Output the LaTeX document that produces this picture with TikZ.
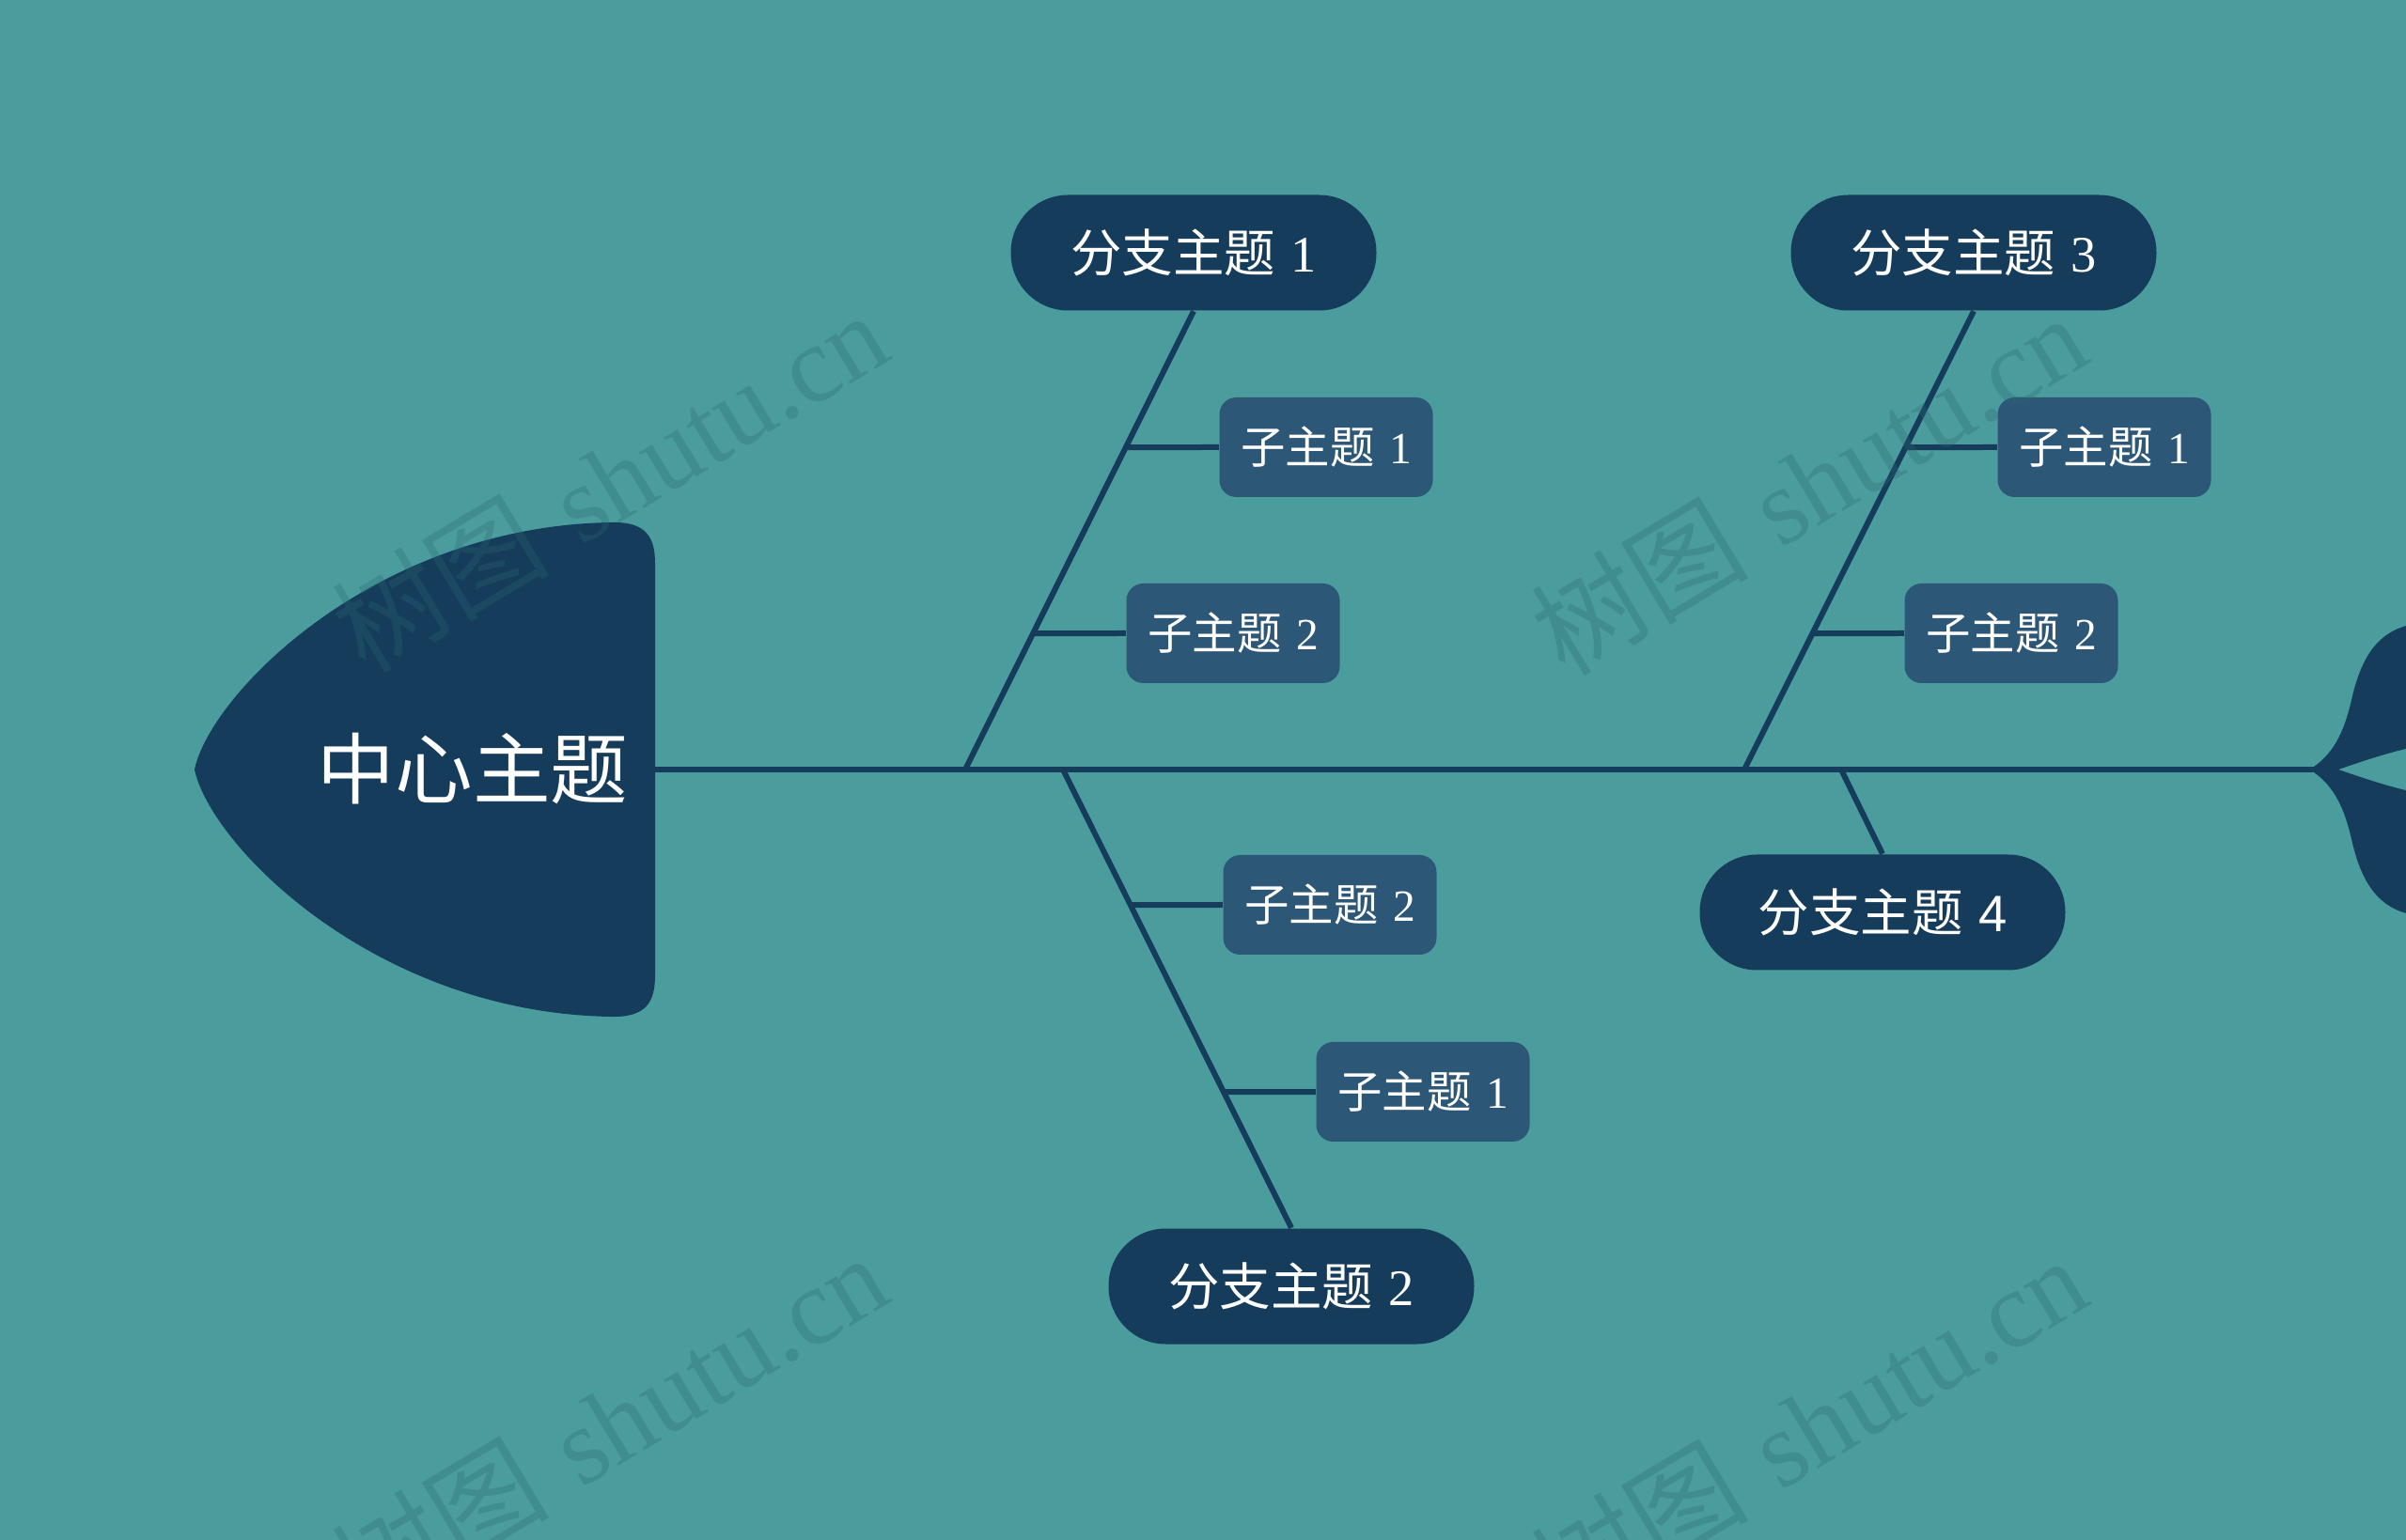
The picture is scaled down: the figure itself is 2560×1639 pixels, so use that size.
\documentclass[tikz,border=0pt]{standalone}
\usepackage{fontspec}
\newfontfamily\cjk{Noto Sans CJK SC}
\newfontfamily\dgs{Liberation Serif}
\newfontfamily\dga{Liberation Sans}
\definecolor{bg}{HTML}{4B9C9D}
\definecolor{navy}{HTML}{163C5C}
\definecolor{subc}{HTML}{2D5776}
\definecolor{wm}{HTML}{2A6A70}
\tikzset{
  bone/.style={draw=navy, line width=0.6mm},
  spine/.style={draw=navy, line width=0.65mm},
  branch/.style={fill=navy, text=white, minimum width=38.9mm, minimum height=12.3mm,
    rounded corners=6.1mm, inner sep=0pt, font=\fontsize{15.5pt}{18pt}\selectfont},
  subtopic/.style={fill=subc, text=white, minimum width=22.7mm, minimum height=10.6mm,
    rounded corners=1.8mm, inner sep=0pt, font=\fontsize{13.5pt}{16pt}\selectfont},
  wmark/.style={text=wm, text opacity=0.3, rotate=31, inner sep=0pt,
    font=\fontsize{33pt}{38pt}\selectfont}
}
\newcommand\bt[1]{{\cjk 分支主题} {\dgs #1}}
\newcommand\stt[1]{{\cjk 子主题} {\dgs #1}}
\begin{document}
\begin{tikzpicture}[x=0.1mm,y=-0.1mm]
\useasboundingbox (0,0) rectangle (2560,1639);
\fill[bg] (0,0) rectangle (2560,1639);
\begin{scope}
\clip (0,0) rectangle (2560,1639);
% head
\fill[navy] (207,819) .. controls (224,738) and (400,560) .. (650,556)
  .. controls (688,555) and (697,572) .. (697,600) -- (697,1038)
  .. controls (697,1066) and (688,1083) .. (650,1082)
  .. controls (400,1078) and (224,900) .. (207,819) -- cycle;
% tail
\fill[navy] (2462,816) .. controls (2485,800) and (2495,775) .. (2502,745)
  .. controls (2512,700) and (2530,670) .. (2570,664) -- (2600,664) -- (2600,790)
  .. controls (2560,794) and (2520,808) .. (2488,819)
  .. controls (2520,830) and (2560,844) .. (2600,848) -- (2600,974) -- (2570,974)
  .. controls (2530,968) and (2512,938) .. (2502,893)
  .. controls (2495,863) and (2485,838) .. (2462,822) -- cycle;
\end{scope}
\node[text=white, inner sep=0pt, font=\fontsize{23.5pt}{28pt}\selectfont] (center) at (503,818) {\cjk 中心主题};
\coordinate (headR) at (697,819);
\coordinate (tailJ) at (2468,819);
\coordinate (j1) at (1027,819);
\coordinate (j2) at (1131,819);
\coordinate (j3) at (1856,819);
\coordinate (j4) at (1959,819);
\draw[spine] (headR) -- (tailJ);
% branches
\node[branch] (b1) at (1270,269) {\bt{1}};
\node[branch] (b3) at (2100,269) {\bt{3}};
\node[branch] (b2) at (1374,1369) {\bt{2}};
\node[branch] (b4) at (2003,971) {{\cjk 分支主题} {\dga 4}};
% sub topics
\node[subtopic] (s11) at (1411,476) {\stt{1}};
\node[subtopic] (s12) at (1312,674) {\stt{2}};
\node[subtopic] (s31) at (2239,476) {\stt{1}};
\node[subtopic] (s32) at (2140,674) {\stt{2}};
\node[subtopic] (s22) at (1415,963) {\stt{2}};
\node[subtopic] (s21) at (1514,1162) {\stt{1}};
% bones
\draw[bone] (j1) -- (b1.south);
\draw[bone] (j2) -- (b2.north);
\draw[bone] (j3) -- (b3.south);
\draw[bone] (j4) -- (b4.north);
\draw[bone] (intersection of j1--b1.south and s11.west--s11.east) -- (s11.west);
\draw[bone] (intersection of j1--b1.south and s12.west--s12.east) -- (s12.west);
\draw[bone] (intersection of j3--b3.south and s31.west--s31.east) -- (s31.west);
\draw[bone] (intersection of j3--b3.south and s32.west--s32.east) -- (s32.west);
\draw[bone] (intersection of j2--b2.north and s22.west--s22.east) -- (s22.west);
\draw[bone] (intersection of j2--b2.north and s21.west--s21.east) -- (s21.west);
% watermarks
\node[wmark] (w1) at (648,512) {{\cjk 树图} {\dgs shutu.cn}};
\node[wmark] (w2) at (1924,515) {{\cjk 树图} {\dgs shutu.cn}};
\node[wmark] (w3) at (648,1515) {{\cjk 树图} {\dgs shutu.cn}};
\node[wmark] (w4) at (1924,1518) {{\cjk 树图} {\dgs shutu.cn}};
\end{tikzpicture}
\end{document}
